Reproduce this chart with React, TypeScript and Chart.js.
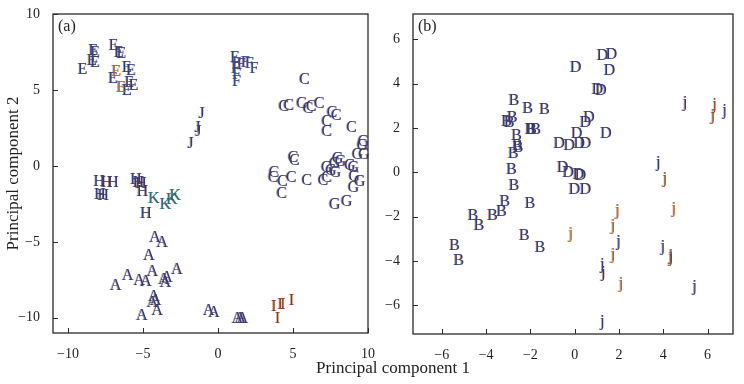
import React, { useEffect, useRef } from "react";
import { Chart, registerables } from "chart.js";

Chart.register(...registerables);

// ---------- Panel (a) data ----------
const aTicksX = [-10, -5, 0, 5, 10];
const aTicksY = [-10, -5, 0, 5, 10];
const aE = [[-9.02, 6.43], [-8.30, 7.63], [-8.19, 7.50], [-8.41, 6.97], [-8.19, 6.84], [-6.95, 7.95], [-6.60, 7.52], [-6.44, 7.43], [-6.99, 5.78], [-6.07, 6.54], [-5.79, 6.32], [-6.07, 5.01], [-5.90, 5.56], [-5.62, 5.34], [1.15, 7.17]];
const aEorange = [[-6.77, 6.27], [-6.44, 5.19]];
const aF = [[1.25, 6.78], [1.18, 6.45], [1.25, 6.06], [1.25, 5.60], [1.57, 6.71], [1.83, 6.84], [2.10, 6.78], [2.42, 6.46]];
const aJ = [[-1.09, 3.49], [-1.36, 2.58], [-1.31, 2.33], [-1.83, 1.55]];
const aC = [[5.77, 5.73], [4.39, 3.99], [4.72, 4.03], [5.57, 4.16], [6.00, 3.86], [6.23, 3.99], [6.75, 4.16], [7.60, 3.58], [7.89, 3.38], [7.25, 2.99], [7.25, 2.33], [8.91, 2.61], [5.01, 0.59], [5.11, 0.44], [3.74, -0.41], [3.69, -0.74], [4.31, -1.00], [4.89, -0.72], [5.93, -0.93], [7.01, -0.93], [7.25, -0.74], [4.25, -1.78]];
const aG = [[9.70, 1.68], [9.63, 1.42], [9.31, 0.83], [9.74, 0.83], [7.99, 0.57], [8.17, 0.37], [7.78, 0.24], [8.81, 0.11], [9.04, -0.07], [7.25, -0.07], [7.54, -0.22], [7.84, -0.41], [9.09, -0.65], [9.46, -0.98], [9.04, -1.39], [7.78, -2.50], [8.58, -2.29]];
const aH = [[-7.91, -0.98], [-7.42, -1.05], [-6.99, -1.05], [-7.86, -1.85], [-7.65, -1.92], [-5.46, -0.87], [-5.29, -1.05], [-5.13, -1.10], [-5.03, -1.63], [-4.80, -3.09]];
const aK = [[-4.26, -2.07], [-3.49, -2.50], [-3.06, -2.18], [-2.84, -1.92]];
const aA = [[-4.19, -4.68], [-3.72, -5.01], [-4.59, -5.84], [-6.82, -7.84], [-6.01, -7.19], [-5.24, -7.47], [-4.80, -7.58], [-4.37, -6.93], [-3.60, -7.41], [-3.39, -7.29], [-3.49, -7.62], [-2.73, -6.75], [-4.26, -8.54], [-4.15, -8.82], [-4.37, -8.93], [-4.04, -9.48], [-5.07, -9.80], [-0.61, -9.48], [-0.26, -9.58], [1.31, -10.02], [1.49, -9.97], [1.64, -10.02]];
const aI = [[3.72, -9.19], [4.15, -9.10], [4.33, -9.04], [4.91, -8.82], [3.98, -9.97]];

// ---------- Panel (b) data ----------
const bTicksX = [-6, -4, -2, 0, 2, 4, 6];
const bTicksY = [-6, -4, -2, 0, 2, 4, 6];
const bB = [[-2.74, 3.30], [-2.12, 2.93], [-1.36, 2.89], [-3.07, 2.33], [-2.95, 2.28], [-2.82, 2.51], [-2.01, 1.99], [-1.94, 1.99], [-1.75, 1.99], [-2.62, 1.68], [-2.59, 1.23], [-2.55, 1.16], [-2.77, 0.88], [-2.85, 0.18], [-2.74, -0.57], [-3.15, -1.28], [-2.01, -1.35], [-3.30, -1.73], [-3.71, -1.90], [-4.59, -1.93], [-4.32, -2.38], [-2.27, -2.83], [-1.56, -3.36], [-5.42, -3.28], [-5.23, -3.96]];
const bD = [[1.26, 5.30], [1.67, 5.34], [0.05, 4.75], [1.58, 4.62], [1.03, 3.78], [1.19, 3.72], [0.65, 2.50], [0.49, 2.29], [1.42, 1.77], [0.10, 1.77], [-0.70, 1.34], [-0.24, 1.23], [0.21, 1.34], [0.49, 1.34], [-0.54, 0.25], [-0.29, 0.03], [0.17, -0.05], [0.26, -0.12], [-0.01, -0.72], [0.49, -0.72]];
const bjNavy = [[4.99, 3.11], [6.78, 2.74], [3.78, 0.41], [1.99, -3.18], [3.99, -3.39], [4.35, -3.81], [1.26, -4.19], [1.30, -4.56], [5.42, -5.19], [1.26, -6.75]];
const bjBrown = [[6.33, 3.02], [6.24, 2.54], [4.08, -0.30], [4.35, -3.88]];
const bjOrange = [[1.94, -1.78], [4.49, -1.67], [1.74, -2.46], [-0.17, -2.79], [1.74, -3.73], [2.10, -5.04]];

const NAVY = "#2b3b86";
const BROWN = "#8a3b1c";
const ORANGE = "#b0671e";
const TEAL = "#24737d";
const BLUE = "#2d4aa0";
const SERIF = '"Liberation Serif", "Times New Roman", serif';

const mk = (pts: number[][], letter: string, color: string, fringe: string) => ({
  data: pts.map(([x, y]) => ({ x, y })),
  letter,
  color,
  fringe,
  pointRadius: 0,
  showLine: false,
});

const lettersPlugin = {
  id: "letters",
  afterDatasetsDraw(chart: any) {
    const ctx = chart.ctx;
    const size = 16;
    ctx.save();
    ctx.font = `${size}px ${SERIF}`;
    ctx.textAlign = "center";
    ctx.textBaseline = "alphabetic";
    chart.data.datasets.forEach((ds: any, i: number) => {
      const meta = chart.getDatasetMeta(i);
      const off = ds.letter === "j" ? 0.23 * size : 0.33 * size;
      meta.data.forEach((el: any) => {
        ctx.globalAlpha = 0.5;
        ctx.fillStyle = ds.fringe;
        ctx.fillText(ds.letter, el.x - 0.9, el.y + off);
        ctx.globalAlpha = 1;
        ctx.fillStyle = ds.color;
        ctx.fillText(ds.letter, el.x, el.y + off);
      });
    });
    ctx.restore();
  },
};

const framePlugin = {
  id: "frame",
  afterDraw(chart: any, _args: any, opts: any) {
    const { ctx, chartArea: a } = chart;
    ctx.save();
    ctx.strokeStyle = "#2a2a2a";
    ctx.lineWidth = 1.3;
    ctx.strokeRect(a.left, a.top, a.right - a.left, a.bottom - a.top);
    const xs = chart.scales.x;
    const ys = chart.scales.y;
    ctx.beginPath();
    xs.ticks.forEach((t: any) => {
      const px = Math.round(xs.getPixelForValue(t.value)) + 0.5;
      ctx.moveTo(px, a.bottom);
      ctx.lineTo(px, a.bottom - 5);
    });
    ys.ticks.forEach((t: any) => {
      const py = Math.round(ys.getPixelForValue(t.value)) + 0.5;
      ctx.moveTo(a.left, py);
      ctx.lineTo(a.left + 5, py);
    });
    ctx.lineWidth = 1;
    ctx.stroke();
    if (opts && opts.label) {
      ctx.fillStyle = "#222";
      ctx.font = `16px ${SERIF}`;
      ctx.textAlign = "left";
      ctx.textBaseline = "middle";
      ctx.fillText(opts.label, a.left + 5, a.top + 13);
    }
    ctx.restore();
  },
};

const fmt = (v: any) => String(v).replace("-", "\u2212");

function makeOptions(cfg: {
  xMin: number; xMax: number; yMin: number; yMax: number;
  xTicks: number[]; yTicks: number[]; yWidth: number; xHeight: number;
  padRight: number; label: string; yTitle?: string;
}) {
  const tickFont = { family: SERIF, size: 14 };
  return {
    responsive: false,
    animation: false as const,
    events: [] as any[],
    layout: { padding: { left: 0, top: 14, right: cfg.padRight, bottom: 0 } },
    plugins: {
      legend: { display: false },
      tooltip: { enabled: false },
      frame: { label: cfg.label },
    },
    scales: {
      x: {
        type: "linear" as const,
        min: cfg.xMin,
        max: cfg.xMax,
        afterBuildTicks: (s: any) => { s.ticks = cfg.xTicks.map((v) => ({ value: v })); },
        afterFit: (s: any) => { s.height = cfg.xHeight; },
        grid: { display: false },
        border: { display: false },
        ticks: { font: tickFont, color: "#222", padding: 5, maxRotation: 0, autoSkip: false, callback: fmt },
      },
      y: {
        type: "linear" as const,
        min: cfg.yMin,
        max: cfg.yMax,
        afterBuildTicks: (s: any) => { s.ticks = cfg.yTicks.map((v) => ({ value: v })); },
        afterFit: (s: any) => { s.width = cfg.yWidth; },
        grid: { display: false },
        border: { display: false },
        ticks: { font: tickFont, color: "#222", padding: 5, autoSkip: false, callback: fmt },
        title: cfg.yTitle
          ? { display: true, text: cfg.yTitle, color: "#222", font: { family: SERIF, size: 17 }, padding: { top: 3, bottom: 0 } }
          : { display: false },
      },
    },
  };
}

export default function App() {
  const leftRef = useRef<HTMLCanvasElement | null>(null);
  const rightRef = useRef<HTMLCanvasElement | null>(null);

  useEffect(() => {
    const left = new Chart(leftRef.current as HTMLCanvasElement, {
      type: "scatter",
      data: {
        datasets: [
          mk(aE, "E", NAVY, BROWN),
          mk(aEorange, "E", ORANGE, NAVY),
          mk(aF, "F", BLUE, BROWN),
          mk(aJ, "J", NAVY, BROWN),
          mk(aC, "C", NAVY, BROWN),
          mk(aG, "G", NAVY, BROWN),
          mk(aH, "H", NAVY, BROWN),
          mk(aK, "K", TEAL, BROWN),
          mk(aA, "A", NAVY, BROWN),
          mk(aI, "I", BROWN, ORANGE),
        ] as any,
      },
      options: makeOptions({
        xMin: -11, xMax: 10, yMin: -11, yMax: 10,
        xTicks: aTicksX, yTicks: aTicksY, yWidth: 53, xHeight: 51,
        padRight: 7, label: "(a)", yTitle: "Principal component 2",
      }) as any,
      plugins: [lettersPlugin, framePlugin],
    });
    const right = new Chart(rightRef.current as HTMLCanvasElement, {
      type: "scatter",
      data: {
        datasets: [
          mk(bB, "B", NAVY, BROWN),
          mk(bD, "D", NAVY, BROWN),
          mk(bjNavy, "j", NAVY, BROWN),
          mk(bjBrown, "j", BROWN, ORANGE),
          mk(bjOrange, "j", ORANGE, BROWN),
        ] as any,
      },
      options: makeOptions({
        xMin: -7.3, xMax: 7.15, yMin: -7.3, yMax: 7.15,
        xTicks: bTicksX, yTicks: bTicksY, yWidth: 33, xHeight: 50,
        padRight: 11, label: "(b)",
      }) as any,
      plugins: [lettersPlugin, framePlugin],
    });
    return () => {
      left.destroy();
      right.destroy();
    };
  }, []);

  return (
    <div style={{ position: "fixed", left: 0, top: 0, width: 744, height: 384, background: "#fff", overflow: "hidden" }}>
      <canvas ref={leftRef} width={380} height={384} style={{ position: "absolute", left: 0, top: 0, width: 380, height: 384 }} />
      <canvas ref={rightRef} width={364} height={384} style={{ position: "absolute", left: 380, top: 0, width: 364, height: 384 }} />
      <div
        style={{
          position: "absolute",
          left: 393,
          top: 368,
          transform: "translate(-50%, -50%)",
          fontFamily: SERIF,
          fontSize: 17,
          color: "#222",
          whiteSpace: "nowrap",
        }}
      >
        Principal component 1
      </div>
    </div>
  );
}
